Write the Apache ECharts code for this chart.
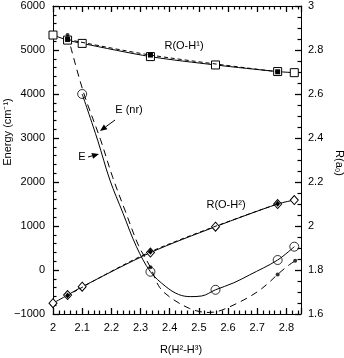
<!DOCTYPE html>
<html>
<head>
<meta charset="utf-8">
<script src="https://cdn.jsdelivr.net/npm/echarts@6/dist/echarts.min.js"></script>
<style>
html,body{margin:0;padding:0;background:#fff;}
#c{width:344px;height:358px;}
</style>
</head>
<body>
<div id="c"></div>
<script>
// ---- Data ----
// Energy, solid curve E (cm^-1) vs R(H2-H3)
const E_curveR = [2.1, 2.153, 2.195, 2.24, 2.286, 2.334, 2.387, 2.43, 2.47, 2.51, 2.557, 2.62, 2.673, 2.77, 2.827];
const E_curveV = [4000, 2950, 2045, 1289, 530, -40, -379, -555, -605, -590, -450, -290, -114, 227, 530];
const E_markR = [2.1, 2.334, 2.557, 2.77, 2.827];
const E_markV = [4000, -40, -450, 227, 530];
// Energy, dashed curve E(nr)
const Enr_curveR = [2.05, 2.104, 2.163, 2.205, 2.25, 2.293, 2.334, 2.366, 2.41, 2.468, 2.503, 2.535, 2.565, 2.594, 2.63, 2.673, 2.708, 2.736, 2.77, 2.804, 2.83];
const Enr_curveV = [5340, 4050, 2960, 2100, 1300, 560, 60, -400, -660, -875, -945, -965, -940, -870, -760, -610, -460, -310, -100, 90, 208];
const Enr_markR = [2.05, 2.334, 2.77, 2.83];
const Enr_markV = [5340, 60, -100, 208];
// R(O-H1), right axis (a0)
const OH1_R = [2.0, 2.05, 2.1, 2.334, 2.557, 2.77, 2.827];
const OH1_V = [2.868, 2.845, 2.830, 2.770, 2.732, 2.702, 2.697];
const OH1nr_R = [2.05, 2.334, 2.77];
const OH1nr_V = [2.848, 2.777, 2.701];
// R(O-H2), right axis (a0)
const OH2_R = [2.0, 2.05, 2.1, 2.334, 2.557, 2.77, 2.827];
const OH2_V = [1.649, 1.686, 1.724, 1.879, 1.997, 2.100, 2.118];
const OH2nr_R = [2.05, 2.334, 2.77];
const OH2nr_V = [1.684, 1.883, 2.101];
// axis ticks
const xTicks = {min: 2, max: 2.85, interval: 0.1};
const yLeftTicks = {min: -1000, max: 6000, interval: 1000};
const yRightTicks = {min: 1.6, max: 3, interval: 0.2};

const zip = (a, b) => a.map((v, i) => [v, b[i]]);
const FONT = '"Liberation Sans", Arial, Helvetica, sans-serif';
const BLACK = '#000';

const chart = echarts.init(document.getElementById('c'));

const AXLINE = {show: true, onZero: false, lineStyle: {color: BLACK, width: 1}};
const MAJ = {show: true, inside: true, length: 6, lineStyle: {color: BLACK, width: 1.3}};
const minor = n => ({show: true, splitNumber: n, length: 3.5, lineStyle: {color: BLACK, width: 1.2}});
const NOSPLIT = {show: false};

const option = {
  animation: false,
  grid: {left: 53, right: 43, top: 6, bottom: 44},
  xAxis: [
    {type: 'value', position: 'bottom', min: xTicks.min, max: xTicks.max, interval: xTicks.interval,
      axisLine: AXLINE, axisTick: MAJ, minorTick: minor(5), splitLine: NOSPLIT,
      axisLabel: {color: BLACK, fontFamily: FONT, fontSize: 11, margin: 8, showMaxLabel: false,
        formatter: v => (Math.abs(v - 2.85) < 1e-6 ? '' : String(+v.toFixed(2)))}},
    {type: 'value', position: 'top', min: xTicks.min, max: xTicks.max, interval: xTicks.interval,
      axisLine: AXLINE, axisTick: MAJ, minorTick: minor(5), splitLine: NOSPLIT,
      axisLabel: {show: false}}
  ],
  yAxis: [
    {type: 'value', position: 'left', min: yLeftTicks.min, max: yLeftTicks.max, interval: yLeftTicks.interval,
      axisLine: AXLINE, axisTick: MAJ, minorTick: minor(5), splitLine: NOSPLIT,
      axisLabel: {color: BLACK, fontFamily: FONT, fontSize: 11, margin: 8,
        formatter: v => String(v).replace('-', '\u2212')}},
    {type: 'value', position: 'right', min: yRightTicks.min, max: yRightTicks.max, interval: yRightTicks.interval,
      axisLine: AXLINE, axisTick: MAJ, minorTick: minor(4), splitLine: NOSPLIT,
      axisLabel: {color: BLACK, fontFamily: FONT, fontSize: 11, margin: 7,
        formatter: v => String(+v.toFixed(2))}}
  ],
  series: [
    {type: 'line', xAxisIndex: 0, yAxisIndex: 0, data: zip(Enr_curveR, Enr_curveV),
      smooth: 0.35, showSymbol: false, lineStyle: {color: BLACK, width: 1, type: [7, 5]}, z: 2},
    {type: 'line', xAxisIndex: 0, yAxisIndex: 0, data: zip(E_curveR, E_curveV),
      smooth: 0.35, showSymbol: false, lineStyle: {color: BLACK, width: 1}, z: 2},
    {type: 'line', xAxisIndex: 0, yAxisIndex: 1, data: zip(OH1_R, OH1_V),
      smooth: 0.3, symbol: 'rect', symbolSize: 8, showSymbol: true,
      itemStyle: {color: '#fff', borderColor: BLACK, borderWidth: 1},
      lineStyle: {color: BLACK, width: 1}, z: 3},
    {type: 'line', xAxisIndex: 0, yAxisIndex: 1, data: zip(OH1nr_R, OH1nr_V),
      smooth: 0.3, symbol: 'rect', symbolSize: 5, showSymbol: true,
      itemStyle: {color: BLACK, borderColor: BLACK, borderWidth: 0},
      lineStyle: {color: BLACK, width: 1, type: [4, 3]}, z: 4},
    {type: 'line', xAxisIndex: 0, yAxisIndex: 1, data: zip(OH2_R, OH2_V),
      smooth: 0.3, symbol: 'diamond', symbolSize: [8, 9], showSymbol: true,
      itemStyle: {color: '#fff', borderColor: BLACK, borderWidth: 1},
      lineStyle: {color: BLACK, width: 1}, z: 3},
    {type: 'line', xAxisIndex: 0, yAxisIndex: 1, data: zip(OH2nr_R, OH2nr_V),
      smooth: 0.3, symbol: 'diamond', symbolSize: [5, 6], showSymbol: true,
      itemStyle: {color: BLACK, borderColor: BLACK, borderWidth: 0},
      lineStyle: {color: BLACK, width: 1, type: [4, 3]}, z: 4},
    {type: 'scatter', xAxisIndex: 0, yAxisIndex: 0, data: zip(E_markR, E_markV),
      symbol: 'circle', symbolSize: 9,
      itemStyle: {color: 'rgba(255,255,255,0)', borderColor: BLACK, borderWidth: 1}, z: 5},
    {type: 'scatter', xAxisIndex: 0, yAxisIndex: 0, data: zip(Enr_markR, Enr_markV),
      symbol: 'circle', symbolSize: 4, itemStyle: {color: BLACK}, z: 6}
  ]
};

// ---- annotations ----
function arrow(x1, y1, x2, y2) {
  const dx = x2 - x1, dy = y2 - y1, Ln = Math.hypot(dx, dy);
  const ux = dx / Ln, uy = dy / Ln, hl = 7, hw = 3;
  const bx = x2 - ux * hl, by = y2 - uy * hl;
  return [
    {type: 'line', shape: {x1: x1, y1: y1, x2: bx, y2: by}, style: {stroke: BLACK, lineWidth: 1}, z: 10},
    {type: 'polygon', shape: {points: [[x2, y2], [bx - uy * hw, by + ux * hw], [bx + uy * hw, by - ux * hw]]},
      style: {fill: BLACK}, z: 10}
  ];
}
function label(text, x, y, rot) {
  return {type: 'text', x: x, y: y, rotation: rot || 0, z: 10,
    style: {text: text, fill: BLACK, font: '11px ' + FONT, textAlign: 'center', textVerticalAlign: 'middle'}};
}
option.graphic = [
  label('R(O-H\u00B9)', 184, 46),
  label('R(O-H\u00B2)', 226, 205),
  label('E (nr)', 129, 110),
  label('E', 82, 157),
  label('Energy (cm\u207B\u00B9)', 8, 132, Math.PI / 2),
  label('R(a\u2080)', 339, 163, -Math.PI / 2),
  label('R(H\u00B2-H\u00B3)', 181, 350)
].concat(arrow(115, 120, 100, 131)).concat(arrow(88, 157, 99, 154));

chart.setOption(option);
</script>
</body>
</html>
